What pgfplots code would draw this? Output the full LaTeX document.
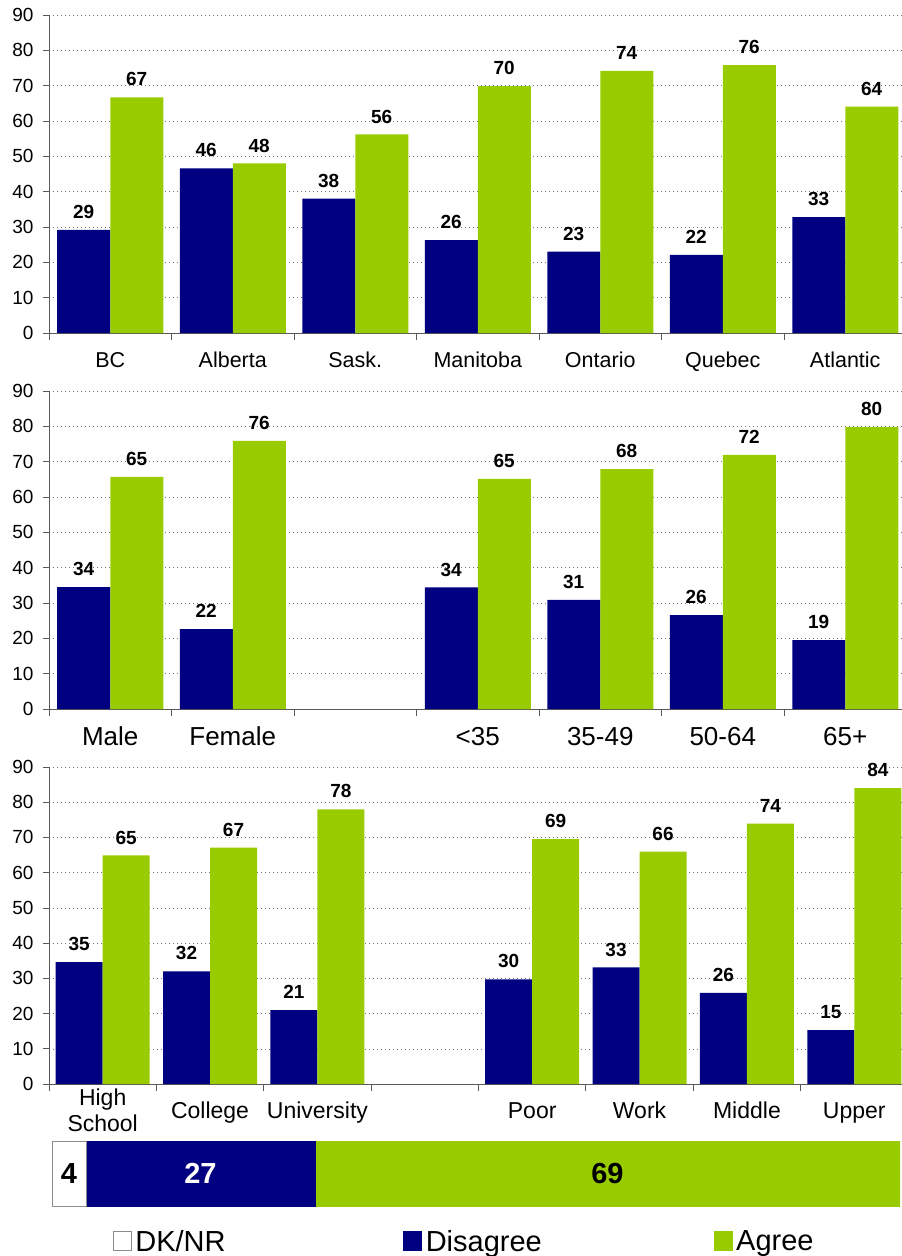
\documentclass[border=0pt]{standalone}
\usepackage{pgfplots}
\pgfplotsset{compat=1.18}
\usepackage{fontspec}
\setmainfont{Liberation Sans}
\definecolor{dis}{RGB}{0,0,128}
\definecolor{agr}{RGB}{153,204,0}

\pgfplotsset{
  /pgf/number format/assume math mode=true,
  panel/.style={
    scale only axis, height=318pt,
    ybar=0pt,
    ymin=0, ymax=90, ytick={0,10,...,90},
    axis x line*=bottom, axis y line*=left,
    axis line style={black!65, line width=0.8pt},
    tick align=outside, major tick length=6pt, minor tick length=7pt,
    ytick style={black!65, line width=0.8pt},
    major x tick style={draw=none},
    minor x tick style={black!65, line width=0.8pt},
    ymajorgrids, grid style={black!55, dash pattern=on 1.2pt off 2.8pt},
    yticklabel style={font=\fontsize{19}{19}\selectfont, xshift=-6pt},
    point meta=explicit symbolic,
    nodes near coords={\pgfplotspointmeta},
    nodes near coords style={font=\bfseries\fontsize{19}{19}\selectfont,
      inner sep=0pt, anchor=south, yshift=11pt},
  },
}

\begin{document}
\begin{tikzpicture}

% regions
\begin{axis}[panel, at={(49pt,-333pt)}, anchor=south west,
  width=857.5pt, bar width=53pt,
  xmin=-0.5, xmax=6.5, xtick={0,...,6}, minor xtick={-0.5,0.5,...,6.5},
  xticklabels={BC,Alberta,Sask.,Manitoba,Ontario,Quebec,Atlantic},
  xticklabel style={font=\fontsize{21.5}{24}\selectfont, anchor=base, yshift=-28pt}]
\addplot[fill=dis, draw=none] coordinates {(0,29.2)[29] (1,46.6)[46] (2,38.0)[38]
  (3,26.3)[26] (4,23.0)[23] (5,22.1)[22] (6,32.8)[33]};
\addplot[fill=agr, draw=none] coordinates {(0,66.7)[67] (1,48.0)[48] (2,56.2)[56]
  (3,69.9)[70] (4,74.2)[74] (5,75.8)[76] (6,64.1)[64]};
\end{axis}

% gender and age
\begin{axis}[panel, at={(49pt,-709pt)}, anchor=south west,
  width=857.5pt, bar width=53pt,
  xmin=-0.5, xmax=6.5, xtick={0,...,6}, minor xtick={-0.5,0.5,...,6.5},
  xticklabels={Male,Female,,<35,35-49,50-64,65+},
  xticklabel style={font=\fontsize{26}{28}\selectfont, anchor=base, yshift=-30pt}]
\addplot[fill=dis, draw=none] coordinates {(0,34.5)[34] (1,22.6)[22]
  (3,34.4)[34] (4,30.9)[31] (5,26.6)[26] (6,19.5)[19]};
\addplot[fill=agr, draw=none] coordinates {(0,65.7)[65] (1,75.9)[76]
  (3,65.1)[65] (4,67.9)[68] (5,71.9)[72] (6,79.8)[80]};
\end{axis}

% education and class
\begin{axis}[panel, at={(49pt,-1084pt)}, anchor=south west,
  width=859pt, height=317pt, bar width=47pt,
  xmin=-0.5, xmax=7.5, xtick={0,...,7}, minor xtick={-0.5,0.5,...,7.5},
  xticklabels={{\raisebox{-2pt}{\begin{tabular}{@{}c@{}}High\\School\end{tabular}}},College,University,,Poor,Work,Middle,Upper},
  xticklabel style={font=\fontsize{23}{26}\selectfont, anchor=base, yshift=-28pt}]
\addplot[fill=dis, draw=none] coordinates {(0,34.6)[35] (1,32.0)[32] (2,21.0)[21]
  (4,29.7)[30] (5,33.1)[33] (6,25.9)[26] (7,15.3)[15]};
\addplot[fill=agr, draw=none] coordinates {(0,64.9)[65] (1,67.1)[67] (2,78.0)[78]
  (4,69.5)[69] (5,66.0)[66] (6,73.9)[74] (7,84.0)[84]};
\end{axis}

% overall
\begin{axis}[at={(52pt,-1206pt)}, anchor=south west, scale only axis,
  width=848pt, height=65pt,
  xbar stacked, bar width=65pt,
  xmin=0, xmax=100, ymin=-0.5, ymax=0.5, hide axis,
  legend columns=3,
  legend style={draw=none, fill=none, inner sep=0pt, outer sep=0pt,
    font=\fontsize{29}{29}\selectfont,
    at={(rel axis cs:0.0719,-0.55)}, anchor=west,
    nodes={inner sep=0pt},
    /tikz/every odd column/.append style={column sep=4pt}},
  legend image code/.code={\draw[#1] (0pt,-8pt) rectangle (18pt,11pt);}]
\addplot[fill=white, draw=black!45] coordinates {(4,0)};
\addlegendentry{\makebox[268pt][l]{DK/NR}}
\addplot[fill=dis, draw=dis] coordinates {(27,0)};
\addlegendentry{\makebox[288pt][l]{Disagree}}
\addplot[fill=agr, draw=agr] coordinates {(69,0)};
\addlegendentry{Agree}
\coordinate (dk) at (axis cs:2,0);
\coordinate (di) at (axis cs:17.5,0);
\coordinate (ag) at (axis cs:65.5,0);
\end{axis}
\node[font=\bfseries\fontsize{29}{29}\selectfont] at (dk) {4};
\node[font=\bfseries\fontsize{29}{29}\selectfont, text=white] at (di) {27};
\node[font=\bfseries\fontsize{29}{29}\selectfont] at (ag) {69};

\pgfresetboundingbox
\path[use as bounding box] (0pt,0pt) rectangle (902pt,-1256pt);
\end{tikzpicture}
\end{document}
